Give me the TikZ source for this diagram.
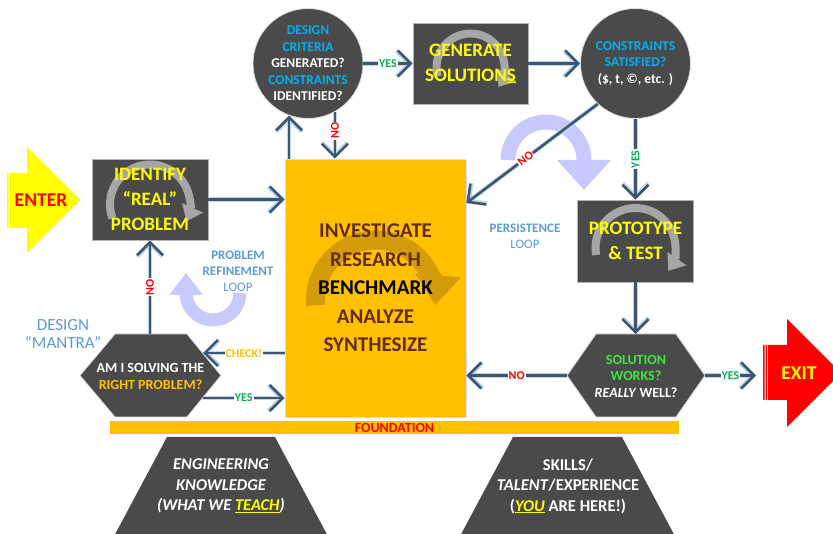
\documentclass[tikz,border=0pt]{standalone}
\usepackage{fontspec}
\setmainfont{Carlito}
\usepackage{tikz}
\usetikzlibrary{arrows.meta,shapes}

\definecolor{slate}{HTML}{3F5673}
\definecolor{glowblue}{HTML}{BDD7EE}
\definecolor{darkfill}{HTML}{4A4A4A}
\definecolor{hiyellow}{HTML}{FFFF00}
\definecolor{skyblue}{HTML}{00B0F0}
\definecolor{noteblue}{HTML}{5B9BD5}
\definecolor{gold}{HTML}{FFC000}
\definecolor{rust}{HTML}{632B18}
\definecolor{yesgreen}{HTML}{00B050}
\definecolor{okgreen}{HTML}{3CE63C}
\definecolor{lavender}{HTML}{C8CAFF}
\definecolor{spingray}{HTML}{A6A6A6}
\definecolor{spingold}{HTML}{D49B0A}

\tikzset{>={Straight Barb[length=13pt,width=26pt]}}
\tikzset{
  flow/.style={->, draw=slate, line width=2.6pt, preaction={draw=glowblue, line width=4.4pt}},
  flag/.style={fill=white, inner sep=1pt, font=\bfseries\fontsize{12}{12}\selectfont},
  darkbox/.style={rectangle, fill=darkfill, draw=gray!60, line width=0.8pt, align=center,
    text=hiyellow, font=\bfseries\fontsize{19}{25}\selectfont},
  askcircle/.style={circle, fill=darkfill, draw=gray!25, line width=0.8pt, minimum size=110pt,
    inner sep=0pt, align=center, text=white, font=\bfseries\fontsize{13.5}{16.5}\selectfont},
  spin/.style n args={4}{path picture={
      \draw[draw=spingray, line width=8pt, -{Triangle[width=22pt,length=15pt]}]
        ([yshift=-#4]path picture bounding box.center) ++(#1:#3)
        arc[start angle=#1, end angle=#2, radius=#3];}},
  loopturn/.style={draw=lavender, line width=15pt},
  note/.style={align=center, text=noteblue},
  hexa/.style={fill=darkfill, draw=gray!25, line width=0.8pt},
  plate/.style={align=center, text=white, font=\bfseries\fontsize{14}{17}\selectfont},
}

\begin{document}
\begin{tikzpicture}[x=1pt, y=-1pt]
  \useasboundingbox (0,0) rectangle (833,534);
  \clip (0,0) rectangle (833,534);

  %% loops
  \draw[loopturn, -{Triangle[width=52pt,length=30pt]}] (508,160)
    arc[start angle=180, end angle=360, radius=38] -- ++(0,30);
  \draw[loopturn, line width=13pt, -{Triangle[width=32pt,length=22pt]}] (240,293)
    arc[start angle=0, end angle=180, radius=27] -- ++(0,-20);

  %% enter / exit
  \fill[hiyellow] (7,173) rectangle (8.5,228) (9.5,173) rectangle (11,228);
  \fill[hiyellow] (12,173) -- (27,173) -- (27,147) -- (80,200) -- (27,253) -- (27,228) -- (12,228) -- cycle;
  \node[text=red, font=\bfseries\fontsize{19.5}{19.5}\selectfont] (enter) at (41,200) {ENTER};

  \fill[red] (763,345) rectangle (764.5,400) (765.5,345) rectangle (767,400);
  \fill[red] (768,345) -- (787,345) -- (787,319) -- (841,373) -- (787,427) -- (787,400) -- (768,400) -- cycle;
  \node[text=hiyellow, font=\bfseries\fontsize{19.5}{19.5}\selectfont] (exit) at (799,373) {EXIT};
  \coordinate (exit-tail) at (756,375.5);

  %% boxes and circles
  \node[darkbox, spin={160}{385}{40}{5pt}, minimum width=116pt, minimum height=81pt]
    (identify) at (150,199.5) {IDENTIFY\\“REAL”\\PROBLEM};
  \node[askcircle] (criteria) at (308,63.5)
    {\textcolor{skyblue}{DESIGN}\\\textcolor{skyblue}{CRITERIA}\\GENERATED?\\\textcolor{skyblue}{CONSTRAINTS}\\IDENTIFIED?};
  \node[darkbox, spin={165}{395}{34}{4pt}, minimum width=115pt, minimum height=81pt]
    (generate) at (470.5,63.5) {GENERATE\\SOLUTION\underline{S}};
  \node[askcircle] (satisfied) at (635.5,63.5)
    {\textcolor{skyblue}{CONSTRAINTS}\\\textcolor{skyblue}{SATISFIED?}\\(\$, t, ©, etc. )};
  \node[darkbox, spin={170}{395}{40}{7pt}, minimum width=116pt, minimum height=82pt]
    (prototype) at (635.5,241) {PROTOTYPE\\\& TEST};

  \node[rectangle, fill=gold, draw=blue!15, line width=0.8pt, minimum width=181pt, minimum height=258pt,
    align=center, text=rust, font=\bfseries\fontsize{21}{28.5}\selectfont,
    path picture={\draw[draw=spingold, line width=19pt, -{Triangle[width=44pt,length=30pt]}]
      ([yshift=-12pt]path picture bounding box.center) ++(175:60)
      arc[start angle=175, end angle=365, radius=60];}]
    (core) at (375.5,288) {INVESTIGATE\\RESEARCH\\\textcolor{black}{BENCHMARK}\\ANALYZE\\SYNTHESIZE};

  %% hexagons
  \filldraw[hexa] (80,375.5) -- (115,334) -- (187,334) -- (221,375.5) -- (187,417) -- (115,417) -- cycle;
  \node[plate] (mantra) at (150.5,376) {AM I SOLVING THE\\\textcolor{gold}{RIGHT PROBLEM?}};
  \coordinate (mantra-top) at (150,334);
  \coordinate (mantra-check) at (203,353);
  \coordinate (mantra-yes) at (203,398);

  \filldraw[hexa] (567,375.5) -- (596,334) -- (676,334) -- (705,375.5) -- (676,417) -- (596,417) -- cycle;
  \node[plate, font=\bfseries\fontsize{14}{16.5}\selectfont] (works) at (636,376)
    {\textcolor{okgreen}{SOLUTION}\\\textcolor{okgreen}{WORKS?}\\\textit{REALLY} WELL?};
  \coordinate (works-top) at (635.5,334);
  \coordinate (works-west) at (567,375.5);
  \coordinate (works-east) at (705,375.5);

  %% foundation
  \node[rectangle, fill=gold, minimum width=569pt, minimum height=13pt, inner sep=0pt,
    text=red, font=\bfseries\fontsize{14}{14}\selectfont] (foundation) at (394.5,427.5) {FOUNDATION};
  \fill[darkfill] (167,437) -- (275,437) -- (330,540) -- (112,540) -- cycle;
  \node[align=center, text=white, font=\bfseries\itshape\fontsize{16.5}{20.5}\selectfont] (knowledge) at (221,486)
    {ENGINEERING\\KNOWLEDGE\\(WHAT WE \textcolor{hiyellow}{\underline{TEACH}})};
  \fill[darkfill] (513,437) -- (622,437) -- (677,540) -- (458,540) -- cycle;
  \node[align=center, text=white, font=\bfseries\fontsize{16.5}{20.5}\selectfont] (skills) at (568,486)
    {SKILLS/\\\textit{TALENT}/EXPERIENCE\\(\textcolor{hiyellow}{\underline{\textit{YOU}}} ARE HERE!)};

  %% notes
  \node[note, font=\fontsize{17}{18}\selectfont] (mantra-note) at (63,334) {DESIGN\\“MANTRA”};
  \node[note, font=\fontsize{13}{16}\selectfont] (refine-note) at (238,271)
    {\textbf{PROBLEM}\\\textbf{REFINEMENT}\\LOOP};
  \node[note, font=\fontsize{13}{16}\selectfont] (persist-note) at (525,236) {\textbf{PERSISTENCE}\\LOOP};

  %% connectors
  \draw[flow] (identify.east) -- (identify.east -| core.west);
  \draw[flow] (criteria.250 |- core.north) -- (criteria.250);
  \draw[flow] (criteria.299) -- (criteria.299 |- core.north)
    node[flag, pos=0.4, rotate=90, text=red]{NO};
  \draw[flow] (criteria.east) -- (generate.west) node[flag, midway, text=yesgreen]{YES};
  \draw[flow] (generate.east) -- (satisfied.west);
  \draw[flow] (satisfied.227) -- (core.east |- 0,203) node[flag, pos=0.55, sloped, text=red]{NO};
  \draw[flow] (satisfied.south) -- (prototype.north) node[flag, midway, rotate=90, text=yesgreen]{YES};
  \draw[flow] (prototype.south) -- (works-top);
  \draw[flow] (works-west) -- (works-west -| core.east) node[flag, midway, text=red]{NO};
  \draw[flow] (works-east) -- (exit-tail) node[flag, midway, text=yesgreen]{YES};
  \draw[flow] (core.west |- mantra-check) -- (mantra-check)
    node[flag, midway, text=gold]{CHECK!};
  \draw[flow] (mantra-yes) -- (mantra-yes -| core.west) node[flag, midway, text=yesgreen]{YES};
  \draw[flow] (mantra-top) -- (identify.south) node[flag, midway, rotate=90, text=red]{NO};

\end{tikzpicture}
\end{document}
